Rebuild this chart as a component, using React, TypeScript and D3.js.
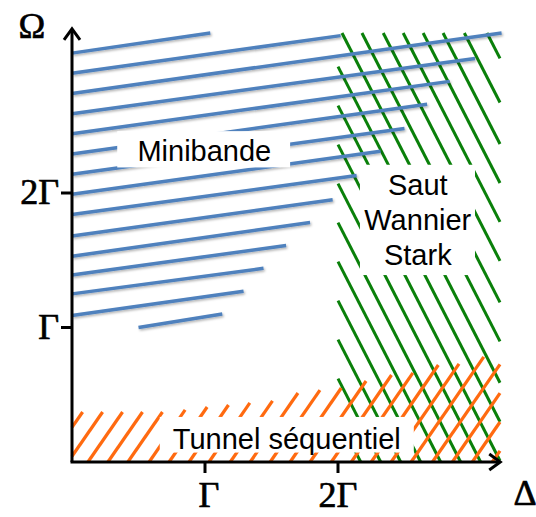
import React from 'react';
import * as d3 from 'd3';

const W = 536;
const H = 517;

// Axes (units of Γ)
const axisMax = 3.22;
const xTicks = [1, 2];
const xTickLabels = ['Γ', '2Γ'];
const yTicks = [1, 2];
const yTickLabels = ['Γ', '2Γ'];

// Minibande (blue) segments: start (Δ, Ω) -> end (Δ, Ω)
const bandX0 = [0, 0, 0, 0, 0, 0, 0, 0, 0, 0, 0, 0, 0, 0, 0.5];
const bandY0 = [3.04, 2.89, 2.74, 2.59, 2.44, 2.29, 2.14, 1.99, 1.84, 1.68, 1.53, 1.39, 1.25, 1.09, 1.0];
const bandX1 = [1.04, 2.02, 3.23, 3.03, 2.84, 2.67, 2.5, 2.32, 2.14, 1.96, 1.79, 1.61, 1.44, 1.29, 1.13];
const bandY1 = [3.19, 3.17, 3.19, 3.0, 2.83, 2.66, 2.48, 2.31, 2.13, 1.95, 1.78, 1.61, 1.44, 1.27, 1.1];

// Saut Wannier-Stark (green) hatch
const wsLeft = 2.0;
const wsRight = 3.218;
const wsTop = 3.19;
const wsSlope = 1.93; // Ω drop per unit Δ
const wsTopX = [2.03, 2.18, 2.34, 2.49, 2.64, 2.79, 2.95, 3.12];
const wsLeftY = [2.94, 2.65, 2.36, 2.07, 1.78, 1.49, 1.2, 0.91, 0.62, 0.33];

// Tunnel séquentiel (orange) hatch
const tsSlope = 1.43;
const tsBottomX = [-0.18, -0.03, 0.12, 0.27, 0.42, 0.58, 0.73, 0.88, 1.03, 1.19, 1.34, 1.49, 1.64, 1.79, 1.95, 2.1, 2.25, 2.4, 2.55, 2.71, 2.86, 3.01, 3.16];
const tsTopY = [0.372, 0.372, 0.372, 0.372, 0.372, 0.387, 0.409, 0.424, 0.439, 0.454, 0.513, 0.535, 0.55, 0.602, 0.647, 0.662, 0.721, 0.729, 0.781, 0.9, 0.9, 0.9, 0.9];

// Labels
const regionLabels = [
  { lines: ['Minibande'], box: [0.34, 2.46, 1.64, 2.19], cx: 0.995, base: [2.24] },
  { lines: ['Saut', 'Wannier', 'Stark'], box: [2.165, 2.21, 3.03, 1.39], cx: 2.6, base: [1.985, 1.725, 1.465] },
  { lines: ['Tunnel séquentiel'], box: [0.66, 0.335, 2.57, 0.07], cx: 1.615, base: [0.1] },
];

export default function App() {
  const x = d3.scaleLinear().domain([0, 2]).range([72, 338]);
  const y = d3.scaleLinear().domain([0, 2]).range([462, 193]);
  const line = d3.line<[number, number]>().x((d) => x(d[0])).y((d) => y(d[1]));

  const bands = bandX0.map((_, i) => [[bandX0[i], bandY0[i]], [bandX1[i], bandY1[i]]] as [number, number][]);

  const greenStarts: [number, number][] = [
    ...wsTopX.map((v) => [v, wsTop] as [number, number]),
    ...wsLeftY.map((v) => [wsLeft, v] as [number, number]),
  ];
  const greens = greenStarts.map(([sx, sy]) => {
    const ex = Math.min(sx + sy / wsSlope, wsRight);
    const ey = sy - (ex - sx) * wsSlope;
    return [[sx, sy], [ex, ey]] as [number, number][];
  });

  const oranges = tsBottomX.map((xb, i) => {
    let x0 = xb;
    let y0 = 0;
    if (x0 < 0) {
      x0 = 0;
      y0 = -xb * tsSlope;
    }
    let x1 = xb + tsTopY[i] / tsSlope;
    let y1 = tsTopY[i];
    if (x1 > axisMax) {
      x1 = wsRight;
      y1 = (wsRight - xb) * tsSlope;
    }
    return [[x0, y0], [x1, y1]] as [number, number][];
  });

  const sans = "'Liberation Sans', Arial, Helvetica, sans-serif";
  const serif = "'Liberation Serif', 'Times New Roman', serif";

  return (
    <svg width={W} height={H} style={{ position: 'absolute', left: 0, top: 0, background: '#fff' }}>
      <defs>
        <filter id="sh" x="-10%" y="-50%" width="120%" height="200%">
          <feDropShadow dx="1.2" dy="1.5" stdDeviation="0.9" floodColor="#000" floodOpacity="0.3" />
        </filter>
      </defs>
      <rect width={W} height={H} fill="#fff" />
      <g stroke="#0a800a" strokeWidth={3} fill="none">
        {greens.map((d, i) => (
          <path key={i} d={line(d) || ''} />
        ))}
      </g>
      <g stroke="#ff6a10" strokeWidth={3.2} fill="none">
        {oranges.map((d, i) => (
          <path key={i} d={line(d) || ''} />
        ))}
      </g>
      <g stroke="#4f81bd" strokeWidth={3.5} fill="none" filter="url(#sh)">
        {bands.map((d, i) => (
          <path key={i} d={line(d) || ''} />
        ))}
      </g>
      {regionLabels.map((r, i) => (
        <g key={i}>
          <rect
            x={x(r.box[0])}
            y={y(r.box[1])}
            width={x(r.box[2]) - x(r.box[0])}
            height={y(r.box[3]) - y(r.box[1])}
            fill="#fff"
          />
          {r.lines.map((t, j) => (
            <text key={j} x={x(r.cx)} y={y(r.base[j])} textAnchor="middle" fontFamily={sans} fontSize={29} fill="#000">
              {t}
            </text>
          ))}
        </g>
      ))}
      {/* axes */}
      <g stroke="#000" strokeWidth={3} fill="none">
        <line x1={x(0)} y1={y(0)} x2={x(0)} y2={y(axisMax) + 1} />
        <line x1={x(0) - 1.5} y1={y(0)} x2={x(axisMax) - 1} y2={y(0)} />
        <path d={`M${x(0) - 8},${y(axisMax) + 11} L${x(0)},${y(axisMax)} L${x(0) + 8},${y(axisMax) + 11}`} strokeLinejoin="miter" />
        <path d={`M${x(axisMax) - 11},${y(0) - 8} L${x(axisMax)},${y(0)} L${x(axisMax) - 11},${y(0) + 8}`} strokeLinejoin="miter" />
        {xTicks.map((t) => (
          <line key={'xt' + t} x1={x(t)} x2={x(t)} y1={y(0)} y2={y(0) + 11} />
        ))}
        {yTicks.map((t) => (
          <line key={'yt' + t} x1={x(0) - 11} x2={x(0)} y1={y(t)} y2={y(t)} />
        ))}
      </g>
      <g fontFamily={serif} fontSize={36} fill="#000" stroke="#000" strokeWidth={0.7}>
        {xTicks.map((t, i) => (
          <text key={'xl' + t} x={x(t) + (i === 0 ? 4 : 0)} y={507} textAnchor="middle">
            {xTickLabels[i]}
          </text>
        ))}
        {yTicks.map((t, i) => (
          <text key={'yl' + t} x={x(0) - 13} y={y(t) + 11} textAnchor="end">
            {yTickLabels[i]}
          </text>
        ))}
        <text x={32} y={38} textAnchor="middle">Ω</text>
        <text x={525} y={505} textAnchor="middle">Δ</text>
      </g>
    </svg>
  );
}
